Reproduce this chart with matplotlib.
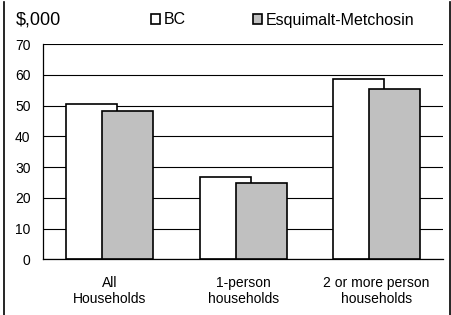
import matplotlib.pyplot as plt
import numpy as np
from matplotlib.lines import Line2D

plt.rcParams['font.family'] = ['Liberation Sans', 'DejaVu Sans']

# data
categories = ['All\nHouseholds', '1-person\nhouseholds', '2 or more person\nhouseholds']
bc = [50.6, 26.8, 58.6]
esq = [48.1, 24.7, 55.4]
series_names = ['BC', 'Esquimalt-Metchosin']
yticks = [0, 10, 20, 30, 40, 50, 60, 70]

fig = plt.figure(figsize=(4.51, 3.15), dpi=100)
ax = fig.add_axes([43 / 451, 1 - 259.3 / 315, 400.3 / 451, 215.3 / 315])

x = np.arange(len(categories))
w = 0.383
off = 0.135

ax.set_axisbelow(True)
ax.yaxis.grid(True, color='black', linewidth=0.8)
b1 = ax.bar(x - off, bc, w, color='white', edgecolor='black', linewidth=1.2,
            label=series_names[0], zorder=2)
b2 = ax.bar(x + off, esq, w, color='#c0c0c0', edgecolor='black', linewidth=1.2,
            label=series_names[1], zorder=3)

ax.set_xlim(-0.5, 2.5)
ax.set_ylim(0, 70)
ax.set_yticks(yticks)
ax.set_xticks(x)
ax.set_xticklabels(categories, fontsize=10)
ax.tick_params(axis='y', length=0, pad=9, labelsize=10)
ax.tick_params(axis='x', length=0, pad=12)
for s in ['top', 'right']:
    ax.spines[s].set_visible(False)
ax.spines['left'].set_linewidth(0.9)
ax.spines['bottom'].set_linewidth(0.9)

fig.text(16 / 451, 1 - 20 / 315, '$,000', fontsize=13, va='center', ha='left')

fig.legend(handles=[b1, b2], loc='center left',
           bbox_to_anchor=(151 / 451, 1 - 20 / 315), ncol=2, frameon=False,
           fontsize=11.5, handlelength=0.55, handleheight=0.55,
           handletextpad=0.25, columnspacing=4.2, borderpad=0,
           borderaxespad=0)

# frame lines at the figure edges
fig.add_artist(Line2D([3.5 / 451, 3.5 / 451], [0, 1 - 2 / 315],
                      transform=fig.transFigure, color='black', linewidth=1.2))
fig.add_artist(Line2D([449.8 / 451, 449.8 / 451], [0, 1 - 2 / 315],
                      transform=fig.transFigure, color='black', linewidth=1.2))

fig.savefig('out.png', dpi=100)
